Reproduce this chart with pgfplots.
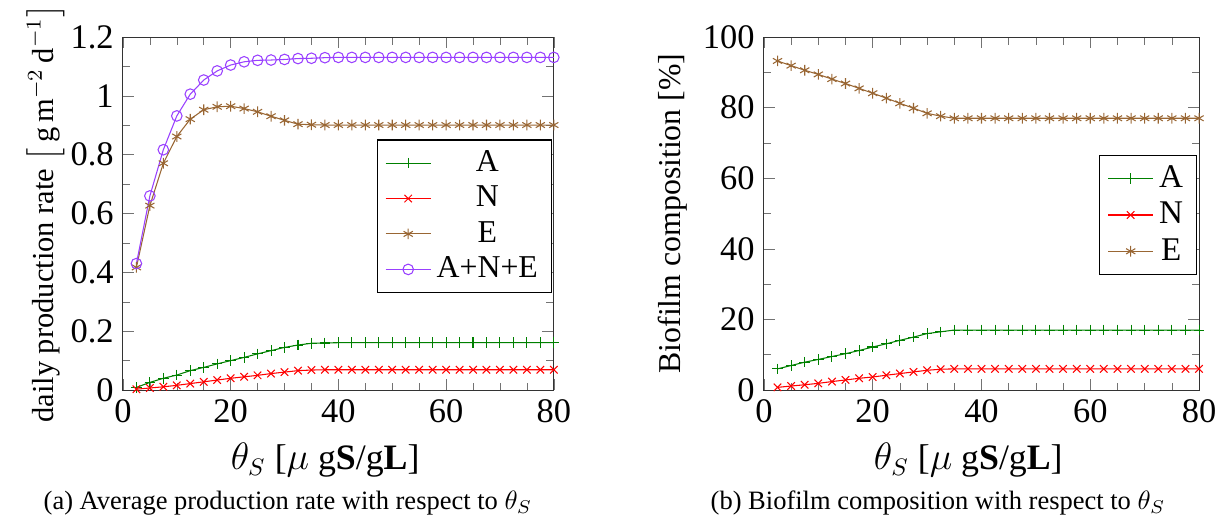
\documentclass[border=0pt]{standalone}
\usepackage{fontspec}
\setmainfont{Liberation Serif}
\usepackage{amsmath}
\usepackage{pgfplots}
\pgfplotsset{compat=1.18}
\usepackage{pgfplotstable}

\definecolor{cA}{rgb}{0,0.5,0}
\definecolor{cN}{rgb}{1,0,0}
\definecolor{cE}{rgb}{0.6,0.4,0.2}
\definecolor{cT}{rgb}{0.6,0.25,1}

% daily production rate per species [g m^-2 d^-1]
\pgfplotstableread{
x    A      N      E      T
2.5  0.009  0.003  0.417  0.430
5    0.026  0.007  0.627  0.660
7.5  0.040  0.011  0.771  0.817
10   0.051  0.016  0.862  0.932
12.5 0.066  0.022  0.921  1.006
15   0.077  0.028  0.953  1.054
17.5 0.089  0.034  0.963  1.085
20   0.100  0.040  0.965  1.105
22.5 0.111  0.045  0.957  1.116
25   0.123  0.050  0.946  1.121
27.5 0.134  0.056  0.931  1.122
30   0.145  0.061  0.917  1.124
32.5 0.153  0.066  0.904  1.127
35   0.159  0.068  0.902  1.128
37.5 0.160  0.069  0.901  1.130
40   0.161  0.069  0.901  1.131
42.5 0.161  0.069  0.901  1.131
45   0.161  0.069  0.901  1.131
47.5 0.161  0.069  0.901  1.131
50   0.161  0.069  0.901  1.131
52.5 0.161  0.069  0.901  1.131
55   0.161  0.069  0.901  1.131
57.5 0.161  0.069  0.901  1.131
60   0.161  0.069  0.901  1.131
62.5 0.161  0.069  0.901  1.131
65   0.161  0.069  0.901  1.131
67.5 0.161  0.069  0.901  1.131
70   0.161  0.069  0.901  1.131
72.5 0.161  0.069  0.901  1.131
75   0.161  0.069  0.901  1.131
77.5 0.161  0.069  0.901  1.131
80   0.161  0.069  0.901  1.131
}\rates

% biofilm composition [%]
\pgfplotstableread{
x    A      N     E
2.5  6.00   0.76  93.24
5    6.95   1.14  91.91
7.5  7.90   1.50  90.60
10   8.67   1.90  89.43
12.5 9.50   2.40  88.10
15   10.30  2.86  86.84
17.5 11.20  3.33  85.47
20   12.20  3.70  84.10
22.5 13.10  4.20  82.70
25   14.10  4.67  81.23
27.5 15.00  5.14  79.86
30   16.00  5.60  78.40
32.5 16.50  5.90  77.60
35   17.00  6.00  77.00
37.5 17.00  6.00  77.00
40   17.00  6.00  77.00
42.5 17.00  6.00  77.00
45   17.00  6.00  77.00
47.5 17.00  6.00  77.00
50   17.00  6.00  77.00
52.5 17.00  6.00  77.00
55   17.00  6.00  77.00
57.5 17.00  6.00  77.00
60   17.00  6.00  77.00
62.5 17.00  6.00  77.00
65   17.00  6.00  77.00
67.5 17.00  6.00  77.00
70   17.00  6.00  77.00
72.5 17.00  6.00  77.00
75   17.00  6.00  77.00
77.5 17.00  6.00  77.00
80   17.00  6.00  77.00
}\comp

\pgfplotsset{
  panel/.style={
    scale only axis,
    height=133.2pt,
    xmin=0, xmax=80,
    xtick distance=20,
    minor x tick num=3,
    minor y tick num=1,
    tick style={black!55},
    axis line style={black!80},
    /pgf/number format/assume math mode=true,
    tick label style={font=\fontsize{13}{15}\selectfont},
    label style={font=\fontsize{12}{14}\selectfont},
    xlabel={$\theta_S$ [$\mu$ g\textbf{S}/g\textbf{L}]},
    xlabel style={font=\fontsize{13.5}{15}\selectfont, xshift=-5pt, yshift=-1pt},
    legend cell align=center,
  },
}

\begin{document}
\begin{tikzpicture}
\begin{axis}[panel,
  name=left,
  at={(0pt,0pt)},
  width=162.6pt,
  ymin=0, ymax=1.2,
  ytick distance=0.2,
  ylabel={daily production rate $\left[\,\text{g\,m}^{-2}\,\text{d}^{-1}\right]$},
  ylabel style={font=\fontsize{11.5}{14}\selectfont,
    at={(axis description cs:-0.18,0.5)}, anchor=center},
  legend style={at={(0.995,0.71)}, anchor=north east,
    font=\fontsize{12}{14}\selectfont},
]
\addplot[cA, mark=+] table[x=x, y=A] {\rates};
\addlegendentry{A}
\addplot[cN, mark=x] table[x=x, y=N] {\rates};
\addlegendentry{N}
\addplot[cE, mark=asterisk] table[x=x, y=E] {\rates};
\addlegendentry{E}
\addplot[cT, mark=o] table[x=x, y=T] {\rates};
\addlegendentry{A+N+E}
\end{axis}
\node at (62.3pt,-42.6pt) {(a) Average production rate with respect to $\theta_S$};

\begin{axis}[panel,
  name=right,
  at={(241.9pt,0pt)},
  width=164.2pt,
  ymin=0, ymax=100,
  ytick distance=20,
  ylabel={Biofilm composition [\%]},
  ylabel style={at={(axis description cs:-0.21,0.5)}, anchor=center},
  legend style={at={(0.995,0.667)}, anchor=north east,
    font=\fontsize{12.5}{15}\selectfont},
]
\addplot[cA, mark=+] table[x=x, y=A] {\comp};
\addlegendentry{A}
\addplot[cN, mark=x] table[x=x, y=N] {\comp};
\addlegendentry{N}
\addplot[cE, mark=asterisk] table[x=x, y=E] {\comp};
\addlegendentry{E}
\end{axis}
\node at (307.6pt,-42.6pt) {(b) Biofilm composition with respect to $\theta_S$};

\pgfresetboundingbox
\path[use as bounding box] (-46.4pt,-50.6pt) rectangle (415.9pt,147.2pt);
\end{tikzpicture}
\end{document}
